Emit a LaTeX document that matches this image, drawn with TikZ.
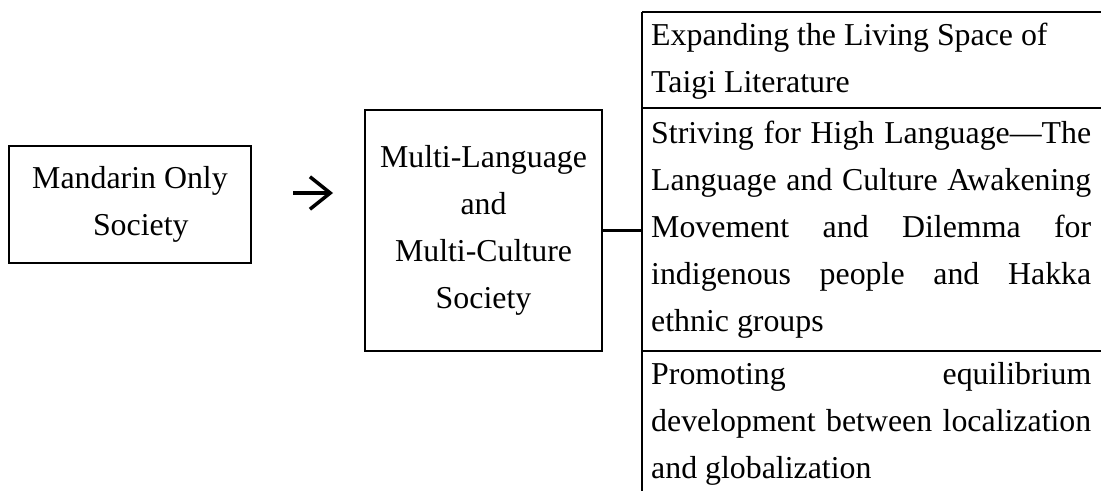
\documentclass[tikz,border=0pt]{standalone}
\usepackage{fontspec}
\setmainfont{Liberation Serif}
\usetikzlibrary{arrows.meta}

\begin{document}
\begin{tikzpicture}
    [x=0.3704pt,y=-0.3704pt,line width=0.8pt,
     every node/.style={font=\fontsize{11.8}{17.4}\selectfont,inner sep=0pt},
     box/.style={draw,rectangle,align=center},
     cell/.style={rectangle,anchor=north west,text width=163pt,inner xsep=3pt}]
    \useasboundingbox (0,0) rectangle (1101,491);

    \node[box,minimum width=89.6pt,minimum height=43.3pt] (nmand) at (130,204.5) {Mandarin Only\\ \hspace*{8pt}Society};
    \node[box,minimum width=87.8pt,minimum height=89.3pt] (nmulti) at (483.5,230.5) {Multi-Language\\ and\\ Multi-Culture\\ Society};

    % arrow between the two boxes
    \coordinate (aleft) at (293,193);
    \coordinate (aright) at (333,193);
    \draw[line width=1.3pt,-{Straight Barb[length=7.5pt,width=12pt,line width=1.3pt]}] (aleft) -- (aright);

    % right column
    \node[cell,minimum height=35.6pt,align=flush left] (ntaigi) at (642,12) {Expanding the Living Space of\\ Taigi Literature};
    \node[cell,minimum height=89.6pt,align=justify] (nhigh) at (642,108) {Striving for High Language---The\linebreak Language and Culture Awakening\linebreak Movement and Dilemma for\linebreak indigenous people and Hakka\linebreak ethnic groups};
    \node[cell,inner ysep=3.8pt,align=justify] (nglob) at (642,351) {Promoting equilibrium\linebreak development between localization\linebreak and globalization};

    \coordinate (cbottom) at (642,491);
    \draw (ntaigi.north west) -- ++(459,0);
    \draw (nhigh.north west) -- ++(459,0);
    \draw (nglob.north west) -- ++(459,0);
    \draw (ntaigi.north west) -- (cbottom);

    \draw (nmulti.east) -- (nmulti.east -| nhigh.west);

  \end{tikzpicture}
\end{document}
